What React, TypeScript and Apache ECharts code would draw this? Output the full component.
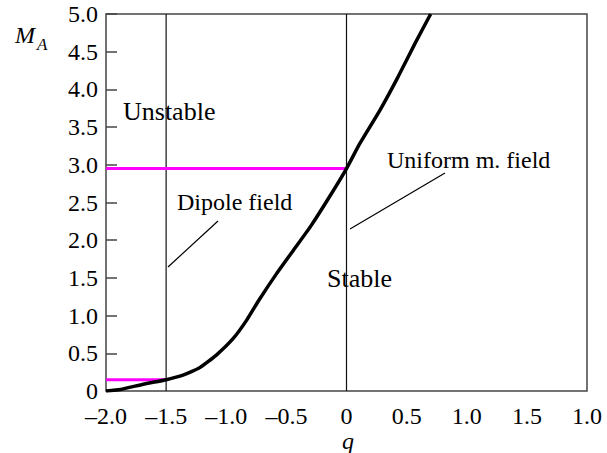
import React, { useEffect, useRef } from "react";
import * as echarts from "echarts";

const qValues = [-2.0, -1.88, -1.69, -1.5, -1.36, -1.22, -1.08, -0.94, -0.83, -0.73, -0.58, -0.44, -0.3, -0.14, 0.0, 0.11, 0.28, 0.43, 0.57, 0.7];
const maValues = [0.0, 0.02, 0.09, 0.15, 0.21, 0.31, 0.48, 0.7, 0.94, 1.2, 1.56, 1.87, 2.18, 2.58, 2.95, 3.28, 3.73, 4.17, 4.61, 5.0];

const xTickLabels = ["–2.0", "–1.5", "–1.0", "–0.5", "0", "0.5", "1.0", "1.5", "1.0"];
const yTickLabels = ["0", "0.5", "1.0", "1.5", "2.0", "2.5", "3.0", "3.5", "4.0", "4.5", "5.0"];

const boundaryQ = [-1.5, 0];
const magentaLevels = [
  { from: -2.0, to: 0, value: 2.95 },
  { from: -2.0, to: -1.5, value: 0.15 },
];

const FONT = "Liberation Serif";

export default function App() {
  const ref = useRef<HTMLDivElement>(null);
  useEffect(() => {
    if (!ref.current) return;
    const chart = echarts.init(ref.current, null, { renderer: "svg" });
    const series: any[] = [];
    boundaryQ.forEach((q) => {
      series.push({
        type: "line",
        data: [[q, 0], [q, 5]],
        symbol: "none",
        lineStyle: { color: "#111", width: 1.2 },
        z: 2,
      });
    });
    magentaLevels.forEach((m) => {
      series.push({
        type: "line",
        data: [[m.from, m.value], [m.to, m.value]],
        symbol: "none",
        lineStyle: { color: "#ff00ff", width: 3 },
        z: 3,
      });
    });
    series.push({
      type: "line",
      data: qValues.map((q, i) => [q, maValues[i]]),
      symbol: "none",
      smooth: 0.15,
      lineStyle: { color: "#000", width: 3.5 },
      z: 4,
    });
    const textStyle = (extra: any = {}) => ({
      fontFamily: FONT,
      fontSize: 24,
      fill: "#000",
      ...extra,
    });
    chart.setOption({
      animation: false,
      grid: {
        left: 106,
        top: 14,
        right: 20,
        bottom: 62,
        show: true,
        borderColor: "#444",
        borderWidth: 1.5,
      },
      xAxis: {
        type: "value",
        min: -2,
        max: 2,
        interval: 0.5,
        splitLine: { show: false },
        axisLine: { show: false, onZero: false },
        axisTick: { show: false },
        axisLabel: {
          fontFamily: FONT,
          fontSize: 24,
          color: "#000",
          margin: 13,
          formatter: (v: number) => xTickLabels[Math.round((v + 2) / 0.5)] ?? "",
        },
      },
      yAxis: {
        type: "value",
        min: 0,
        max: 5,
        interval: 0.5,
        splitLine: { show: false },
        axisLine: { show: false, onZero: false },
        axisTick: { show: true, inside: true, length: 11, lineStyle: { color: "#444", width: 1.5 } },
        axisLabel: {
          fontFamily: FONT,
          fontSize: 24,
          color: "#000",
          margin: 8,
          formatter: (v: number) => yTickLabels[Math.round(v / 0.5)] ?? "",
        },
      },
      series,
      graphic: [
        { type: "text", x: 15, y: 35, style: textStyle({ text: "M", fontStyle: "italic", textVerticalAlign: "middle" }) },
        { type: "text", x: 37, y: 44, style: textStyle({ text: "A", fontStyle: "italic", fontSize: 17, textVerticalAlign: "middle" }) },
        { type: "text", x: 123, y: 111, style: textStyle({ text: "Unstable", fontSize: 26, textVerticalAlign: "middle" }) },
        { type: "text", x: 177, y: 202, style: textStyle({ text: "Dipole field", textVerticalAlign: "middle" }) },
        { type: "text", x: 387, y: 160, style: textStyle({ text: "Uniform m. field", textVerticalAlign: "middle" }) },
        { type: "text", x: 327, y: 278, style: textStyle({ text: "Stable", fontSize: 26, textVerticalAlign: "middle" }) },
        { type: "text", x: 348, y: 441, style: textStyle({ text: "q", fontStyle: "italic", textAlign: "center", textVerticalAlign: "middle" }) },
        { type: "line", shape: { x1: 168, y1: 267, x2: 218, y2: 221 }, style: { stroke: "#000", lineWidth: 1.2 } },
        { type: "line", shape: { x1: 350, y1: 229, x2: 445, y2: 173 }, style: { stroke: "#000", lineWidth: 1.2 } },
      ],
    });
    return () => chart.dispose();
  }, []);
  return <div ref={ref} style={{ position: "absolute", left: 0, top: 0, width: 607, height: 453 }} />;
}
